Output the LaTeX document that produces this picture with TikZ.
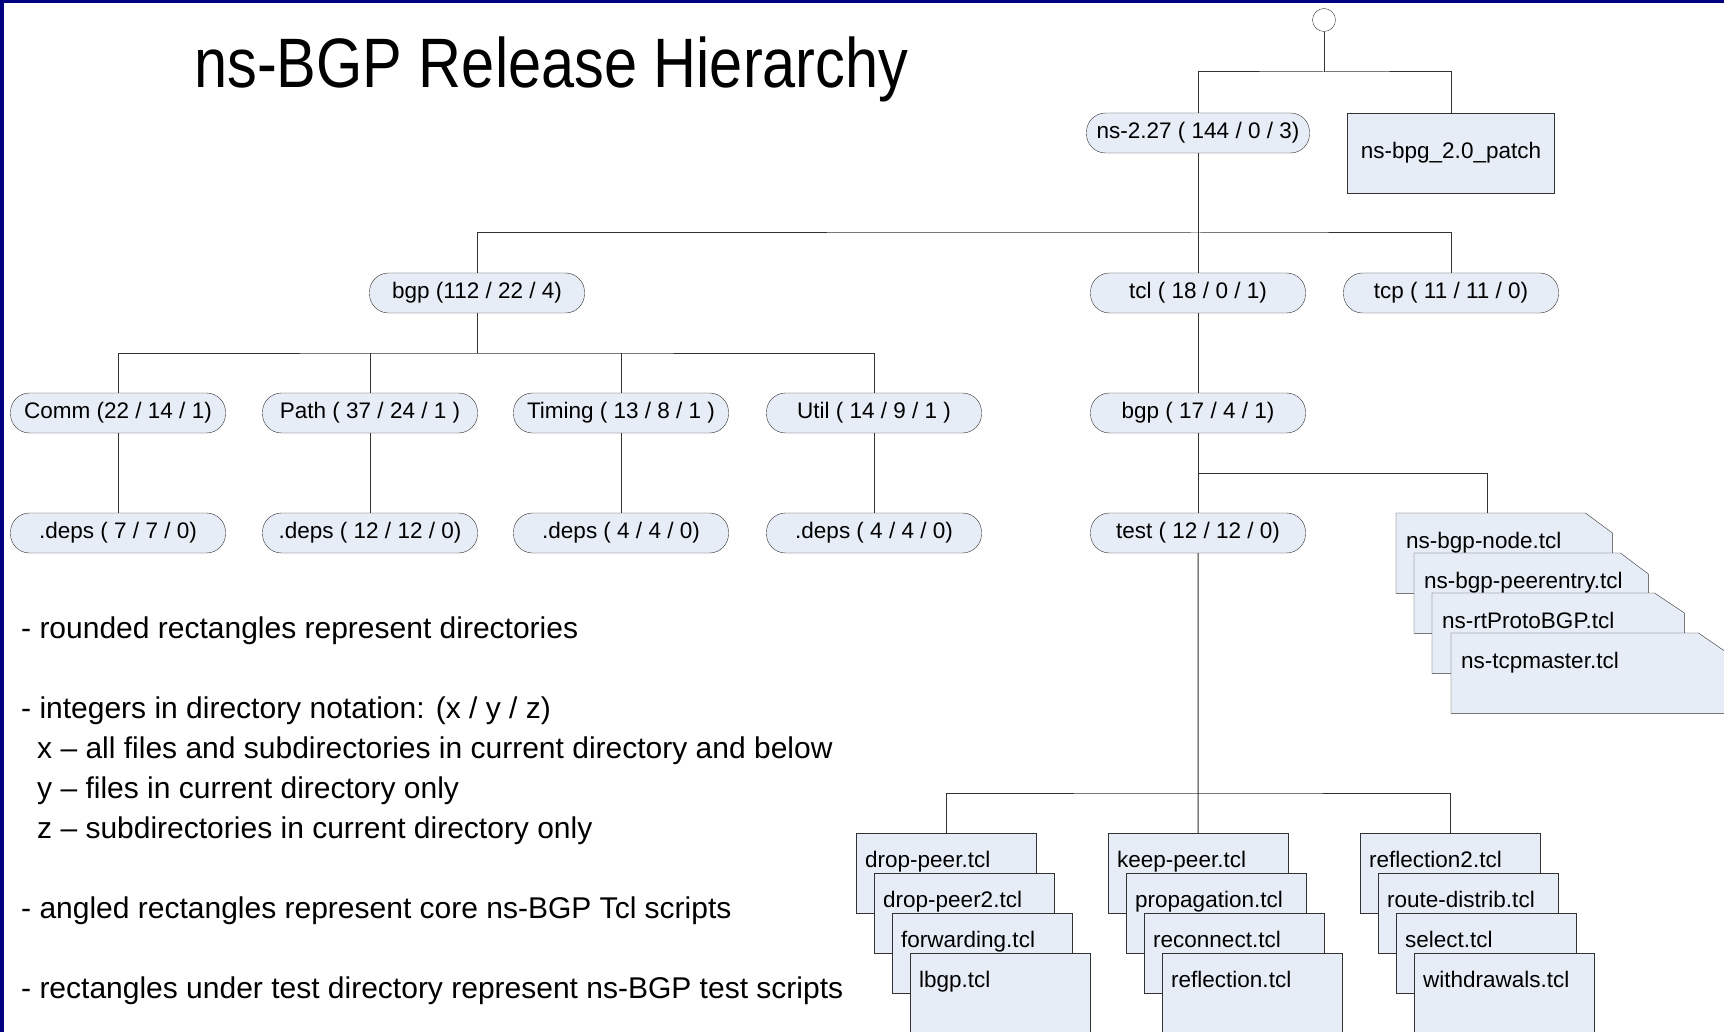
\documentclass[tikz,border=0pt]{standalone}
\usepackage{graphicx}
\usepackage{fontspec}
\setmainfont{Liberation Sans}
\usetikzlibrary{calc}
\definecolor{navyc}{RGB}{0,0,128}
\definecolor{fillc}{RGB}{231,237,247}
\definecolor{linec}{RGB}{50,50,50}
\pgfdeclarelayer{bg}
\pgfdeclarelayer{canvas}
\pgfsetlayers{canvas,bg,main}
\newcommand\nodefont{\fontsize{22.5}{27}\selectfont}
\newcommand\legfont{\fontsize{30}{36}\selectfont}
\begin{document}
\begin{tikzpicture}[x=1pt,y=-1pt,
  dirbox/.style={draw=linec, fill=fillc, rounded corners=19pt, minimum width=215pt, minimum height=40pt, inner sep=0pt, font=\nodefont},
  testbox/.style={draw=linec, fill=fillc, anchor=north west, text width=162pt, inner xsep=9pt, inner ysep=0pt, text height=34pt, text depth=46pt, align=left, font=\nodefont},
  filebox/.style={anchor=north west, inner xsep=10pt, inner ysep=0pt, text height=35pt, text depth=45pt, align=left, font=\nodefont},
  foldc/.style={draw=linec, fill=fillc},
  conn/.style={draw=linec, line width=1pt},
  leg/.style={anchor=base west, inner sep=0pt, font=\legfont}
]
\begin{pgfonlayer}{canvas}
\fill[white] (0,0) rectangle (1724,1032);
\fill[navyc] (0,0) rectangle (1724,3);
\fill[navyc] (0,0) rectangle (4,1032);
\end{pgfonlayer}
\useasboundingbox (0,0) rectangle (1724,1032);

% title
\node (title) [anchor=base west, inner sep=0pt, font=\fontsize{70}{80}\selectfont] at (194,88) {\scalebox{0.85}[1]{ns-BGP Release Hierarchy}};

% top
\node (root) [circle, draw=linec, fill=white, minimum size=23pt, inner sep=0pt] at (1324,20) {};
\node (ns227) [dirbox, minimum width=223pt] at (1198,133) {ns-2.27 ( 144 / 0 / 3)};
\node (patch) [draw=linec, fill=fillc, minimum width=207pt, minimum height=80pt, inner sep=0pt, font=\nodefont] at (1451,153) {ns-bpg\_2.0\_patch};

% level 2
\node (bgp112) [dirbox] at (477,293) {bgp (112 / 22 / 4)};
\node (tcl) [dirbox] at (1198,293) {tcl ( 18 / 0 / 1)};
\node (tcp) [dirbox] at (1451,293) {tcp ( 11 / 11 / 0)};

% level 3
\node (comm) [dirbox] at (118,413) {Comm (22 / 14 / 1)};
\node (path) [dirbox] at (370,413) {Path ( 37 / 24 / 1 )};
\node (timing) [dirbox] at (621,413) {Timing ( 13 / 8 / 1 )};
\node (util) [dirbox] at (874,413) {Util ( 14 / 9 / 1 )};
\node (bgp17) [dirbox] at (1198,413) {bgp ( 17 / 4 / 1)};

% level 4
\node (deps1) [dirbox] at (118,533) {.deps ( 7 / 7 / 0)};
\node (deps2) [dirbox] at (370,533) {.deps ( 12 / 12 / 0)};
\node (deps3) [dirbox] at (621,533) {.deps ( 4 / 4 / 0)};
\node (deps4) [dirbox] at (874,533) {.deps ( 4 / 4 / 0)};
\node (test) [dirbox] at (1198,533) {test ( 12 / 12 / 0)};

% folded (core Tcl scripts)
\node (f1) [filebox, text width=196pt] at (1396,513) {ns-bgp-node.tcl};
\begin{pgfonlayer}{bg}
\filldraw[foldc] (f1.north west) -- ($(f1.north east)+(-27,0)$) -- ($(f1.north east)+(0,20)$) -- (f1.south east) -- (f1.south west) -- cycle;
\end{pgfonlayer}
\node (f2) [filebox, text width=214pt] at (1414,553) {ns-bgp-peerentry.tcl};
\begin{pgfonlayer}{bg}
\filldraw[foldc] (f2.north west) -- ($(f2.north east)+(-28,0)$) -- ($(f2.north east)+(0,21)$) -- (f2.south east) -- (f2.south west) -- cycle;
\end{pgfonlayer}
\node (f3) [filebox, text width=232pt] at (1432,593) {ns-rtProtoBGP.tcl};
\begin{pgfonlayer}{bg}
\filldraw[foldc] (f3.north west) -- ($(f3.north east)+(-30,0)$) -- ($(f3.north east)+(0,20)$) -- (f3.south east) -- (f3.south west) -- cycle;
\end{pgfonlayer}
\node (f4) [filebox, text width=259pt] at (1451,633) {ns-tcpmaster.tcl};
\begin{pgfonlayer}{bg}
\filldraw[foldc] (f4.north west) -- ($(f4.north east)+(-32,0)$) -- ($(f4.north east)+(0,22)$) -- (f4.south east) -- (f4.south west) -- cycle;
\end{pgfonlayer}

% test scripts
\node (dp)  [testbox] at (856,833) {drop-peer.tcl};
\node (dp2) [testbox] at (874,873) {drop-peer2.tcl};
\node (fw)  [testbox] at (892,913) {forwarding.tcl};
\node (lb)  [testbox] at (910,953) {lbgp.tcl};
\node (kp)  [testbox] at (1108,833) {keep-peer.tcl};
\node (pr)  [testbox] at (1126,873) {propagation.tcl};
\node (rc)  [testbox] at (1144,913) {reconnect.tcl};
\node (rf)  [testbox] at (1162,953) {reflection.tcl};
\node (r2)  [testbox] at (1360,833) {reflection2.tcl};
\node (rd)  [testbox] at (1378,873) {route-distrib.tcl};
\node (se)  [testbox] at (1396,913) {select.tcl};
\node (wd)  [testbox] at (1414,953) {withdrawals.tcl};

% connectors
\coordinate (j0) at (1324,72);
\draw[conn] (root.south) -- (j0);
\draw[conn] (ns227.north) |- (j0) -| (patch.north);
\coordinate (j1) at (1198,233);
\draw[conn] (ns227.south) -- (tcl.north);
\draw[conn] (bgp112.north) |- (j1) -| (tcp.north);
\coordinate (j2) at (477,353);
\draw[conn] (bgp112.south) -- (j2);
\draw[conn] (comm.north) |- (j2) -| (util.north);
\draw[conn] (path.north) -- (path.north |- j2);
\draw[conn] (timing.north) -- (timing.north |- j2);
\draw[conn] (comm.south) -- (deps1.north);
\draw[conn] (path.south) -- (deps2.north);
\draw[conn] (timing.south) -- (deps3.north);
\draw[conn] (util.south) -- (deps4.north);
\draw[conn] (tcl.south) -- (bgp17.north);
\draw[conn] (bgp17.south) -- (test.north);
\coordinate (j3) at (1198,473);
\coordinate (c1487) at (1487,0);
\draw[conn] (j3) -| (f1.north west -| c1487);
\coordinate (j4) at (1198,793);
\draw[conn] (test.south) -- (kp.north);
\draw[conn] (dp.north) |- (j4) -| (r2.north);

% legend
\node (l1) [leg] at (21,638) {- rounded rectangles represent directories};
\node (l2) [leg] at (21,718) {- integers in directory notation: (x / y / z)};
\node (l3) [leg] at (37,758) {x – all files and subdirectories in current directory and below};
\node (l4) [leg] at (37,798) {y – files in current directory only};
\node (l5) [leg] at (37,838) {z – subdirectories in current directory only};
\node (l6) [leg] at (21,918) {- angled rectangles represent core ns-BGP Tcl scripts};
\node (l7) [leg] at (21,998) {- rectangles under test directory represent ns-BGP test scripts};
\end{tikzpicture}
\end{document}
